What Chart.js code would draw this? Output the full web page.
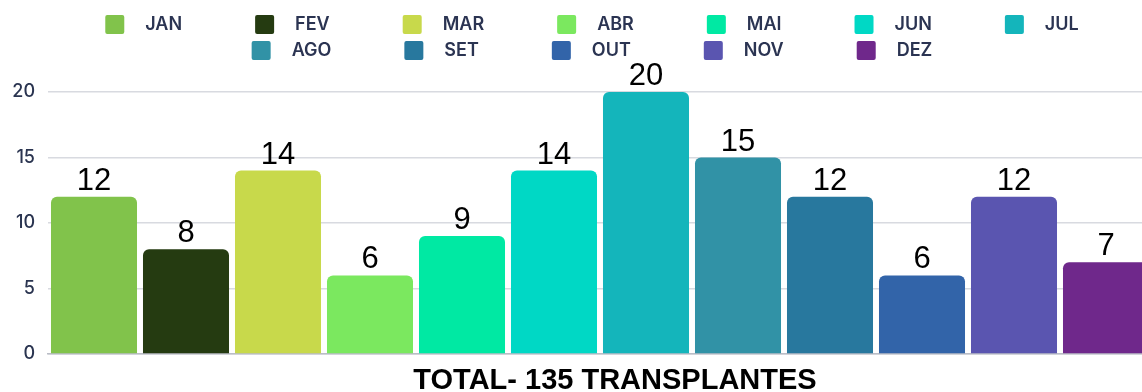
<!DOCTYPE html>
<html>
<head>
<meta charset="utf-8">
<script src="https://cdn.jsdelivr.net/npm/chart.js@4"></script>
<style>
  html, body { margin: 0; padding: 0; background: #fff; }
  #caixa { width: 1142px; height: 392px; overflow: hidden; }
  /* a área do gráfico passa um pouco da borda direita */
  #interno { width: 1152px; height: 392px; position: relative; }
</style>
</head>
<body>
<div id="caixa"><div id="interno"><canvas id="grafico"></canvas></div></div>
<script>
// transplantes por mês
const meses = ['JAN', 'FEV', 'MAR', 'ABR', 'MAI', 'JUN', 'JUL', 'AGO', 'SET', 'OUT', 'NOV', 'DEZ'];
const transplantes = [12, 8, 14, 6, 9, 14, 20, 15, 12, 6, 12, 7];
const cores = ['#81c34b', '#253b11', '#c8d94b', '#7be85f', '#00e9a3', '#00d8c5',
    '#14b5bb', '#3192a6', '#28789e', '#3264a9', '#5a55b0', '#6f288b'];
const eixoY = { min: 0, max: 20, passo: 5 };

const total = transplantes.reduce((a, b) => a + b, 0);

// número em cima de cada barra
const rotulos = {
    id: 'rotulos',
    afterDatasetsDraw(chart) {
        const ctx = chart.ctx;
        ctx.save();
        ctx.font = '31px "Liberation Sans"';
        ctx.fillStyle = '#000';
        ctx.textAlign = 'center';
        ctx.textBaseline = 'alphabetic';
        chart.data.datasets.forEach((ds, i) => {
            const barra = chart.getDatasetMeta(i).data[0];
            ctx.fillText(ds.data[0], barra.x, barra.y - 7);
        });
        ctx.restore();
    }
};

// legenda em duas linhas (7 + 5)
const legendaMeses = {
    id: 'legendaMeses',
    afterDraw(chart) {
        const ctx = chart.ctx;
        const linhas = [meses.slice(0, 7), meses.slice(7)];
        const centro = 592;
        ctx.save();
        ctx.font = '600 18px Inter';
        ctx.textBaseline = 'middle';
        let inicio = 0;
        linhas.forEach((linha, l) => {
            const larguras = linha.map(m => 40 + ctx.measureText(m).width);
            const soma = larguras.reduce((a, b) => a + b, 0) + 73 * (linha.length - 1);
            let x = centro - soma / 2;
            const yCaixa = 15 + l * 26;
            linha.forEach((m, i) => {
                ctx.fillStyle = cores[inicio + i];
                ctx.beginPath();
                ctx.roundRect(x, yCaixa, 19, 19, 2);
                ctx.fill();
                ctx.fillStyle = '#2b3452';
                ctx.fillText(m, x + 40, yCaixa + 10);
                x += larguras[i] + 73;
            });
            inicio += linha.length;
        });
        ctx.restore();
    }
};

new Chart(document.getElementById('grafico'), {
    type: 'bar',
    data: {
        labels: ['TOTAL- ' + total + ' TRANSPLANTES'],
        datasets: meses.map((m, i) => ({
            label: m,
            data: [transplantes[i]],
            backgroundColor: cores[i],
            borderRadius: 6,
            categoryPercentage: 1,
            barPercentage: 0.935
        }))
    },
    options: {
        responsive: true,
        maintainAspectRatio: false,
        animation: false,
        layout: { padding: { top: 92, left: 0, right: 0, bottom: 0 } },
        plugins: {
            legend: { display: false },
            tooltip: { enabled: false }
        },
        scales: {
            x: {
                grid: { display: false, drawTicks: false },
                border: { color: '#babdc6', width: 1.5 },
                ticks: {
                    font: { family: 'Liberation Sans', size: 29, weight: 'bold' },
                    color: '#000',
                    padding: 10,
                    labelOffset: 15
                },
                afterFit(escala) { escala.height = 38; }
            },
            y: {
                min: eixoY.min,
                max: eixoY.max,
                ticks: {
                    stepSize: eixoY.passo,
                    font: { family: 'Inter', size: 18, weight: '500' },
                    color: '#2a3450',
                    padding: 13
                },
                grid: { color: '#d8dae0', lineWidth: 1.5, drawTicks: false },
                border: { display: false },
                afterFit(escala) { escala.width = 48; }
            }
        }
    },
    plugins: [rotulos, legendaMeses]
});
</script>
</body>
</html>
